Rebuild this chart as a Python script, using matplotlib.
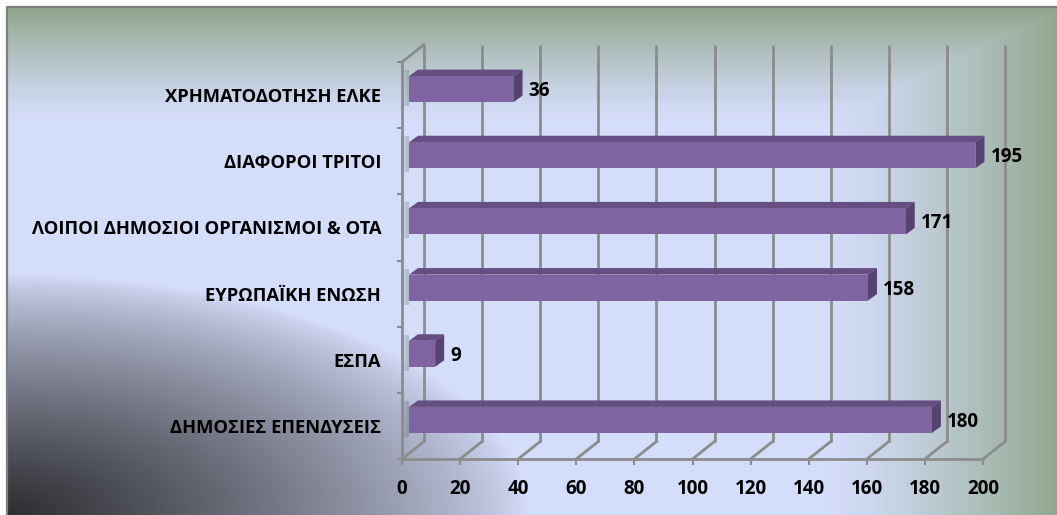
import numpy as np
import matplotlib
matplotlib.use("Agg")
import matplotlib.pyplot as plt
from matplotlib.patches import Polygon

# ---- data ----
categories = ["ΔΗΜΟΣΙΕΣ ΕΠΕΝΔΥΣΕΙΣ", "ΕΣΠΑ", "ΕΥΡΩΠΑΪΚΗ ΕΝΩΣΗ",
              "ΛΟΙΠΟΙ ΔΗΜΟΣΙΟΙ ΟΡΓΑΝΙΣΜΟΙ & ΟΤΑ", "ΔΙΑΦΟΡΟΙ ΤΡΙΤΟΙ",
              "ΧΡΗΜΑΤΟΔΟΤΗΣΗ ΕΛΚΕ"]
values = [180, 9, 158, 171, 195, 36]
xticks = [0, 20, 40, 60, 80, 100, 120, 140, 160, 180, 200]

W, H = 1057, 515
DPI = 100
plt.rcParams['font.family'] = ['Open Sans', 'DejaVu Sans']
fig = plt.figure(figsize=(W / DPI, H / DPI), dpi=DPI)
fig.patch.set_facecolor("white")

# ---- background panel (gradient) ----
bx0, by0 = 6.5, 7.0
bg = fig.add_axes([bx0 / W, 0, 1 - bx0 / W, (H - by0) / H])
bg.set_axis_off()
ny, nx = 260, 530
yy, xx = np.mgrid[0:ny, 0:nx]
px = xx / (nx - 1) * (W - bx0)
py = by0 + yy / (ny - 1) * (H - by0)   # from top
L = np.array([0.835, 0.867, 0.98])
G = np.array([0.56, 0.65, 0.54])
D = np.array([0.18, 0.18, 0.19])
w_top = np.clip(1 - (py - by0) / 115, 0, 1) ** 1.3
w_right = np.clip((px - 820) / 237, 0, 1) ** 1.3
w_g = np.maximum(w_top, w_right)[..., None]
r = np.sqrt((px / 520) ** 2 + ((H - py) / 240) ** 2)
w_d = (np.clip(1 - r, 0, 1) ** 0.75)[..., None]
img = L * (1 - w_g) + G * w_g
img = img * (1 - w_d) + D * w_d
bg.imshow(img, extent=[0, 1, 0, 1], aspect="auto", origin="upper",
          transform=bg.transAxes, zorder=0)
bg.plot([0, 0, 1], [0, 1, 1], transform=bg.transAxes, color="#7f7f7f",
        lw=1.6, clip_on=False, zorder=2)

# ---- plot axes (front plane) ----
fx0, fx1 = 402, 983          # pixel x of 0 and 200 on the front plane
fy_top, fy_bot = 62, 459     # pixel y (from top)
ax = fig.add_axes([fx0 / W, (H - fy_bot) / H, (fx1 - fx0) / W, (fy_bot - fy_top) / H])
ax.set_facecolor("none")
ax.set_xlim(0, 200)
ax.set_ylim(-0.5, len(categories) - 0.5)
ppx = (fx1 - fx0) / 200.0
ppy = (fy_bot - fy_top) / len(categories)


def off(x, y, dx, dy):
    return x + dx / ppx, y + dy / ppy


GRID = "#8c8c8c"
LW = 2.0
ymin, ymax = -0.5, len(categories) - 0.5
BACK = (22, 17.5)

# back wall gridlines + floor diagonals
for t in xticks:
    xb0, yb0 = off(t, ymin, *BACK)
    xb1, yb1 = off(t, ymax, *BACK)
    ax.plot([xb0, xb1], [yb0, yb1], color=GRID, lw=LW, clip_on=False, zorder=1,
            solid_capstyle="butt")
    ax.plot([t, xb0], [ymin, yb0], color=GRID, lw=LW, clip_on=False, zorder=1)
# left wall top diagonal
xb1, yb1 = off(0, ymax, *BACK)
ax.plot([0, xb1], [ymax, yb1], color=GRID, lw=LW, clip_on=False, zorder=1)

# ---- 3D bars ----
FRONT = (7, 6)
DEPTH = (9, 6.5)
bh = 26 / ppy
ypos = np.arange(len(categories))
C_FRONT, C_TOP, C_SIDE = "#8064a2", "#654f82", "#564372"
for yi, v in zip(ypos, values):
    x0, yc = off(0, yi, *FRONT)
    x1 = x0 + v
    ylo, yhi = yc - bh / 2, yc + bh / 2
    # shadow at left end
    for k, a in enumerate(np.linspace(0.22, 0.0, 6)):
        sx, sy = off(x0, ylo, -2 - k * 1.5, 0)
        ax.add_patch(plt.Rectangle((sx, ylo - 4 / ppy), 1.5 / ppx, bh + 10 / ppy,
                                   facecolor="#3a3a44", alpha=a, lw=0,
                                   clip_on=False, zorder=2))
    # top face
    top = [(x0, yhi), (x1, yhi), off(x1, yhi, *DEPTH), off(x0, yhi, *DEPTH)]
    ax.add_patch(Polygon(top, closed=True, facecolor=C_TOP, edgecolor="none",
                         clip_on=False, zorder=3))
    # side face
    side = [(x1, ylo), (x1, yhi), off(x1, yhi, *DEPTH), off(x1, ylo, *DEPTH)]
    ax.add_patch(Polygon(side, closed=True, facecolor=C_SIDE, edgecolor="none",
                         clip_on=False, zorder=3))
ax.barh(ypos + FRONT[1] / ppy, values, height=bh, left=FRONT[0] / ppx,
        color=C_FRONT, edgecolor="none", zorder=4, clip_on=False)

# value labels
for yi, v in zip(ypos, values):
    lx, ly = off(v, yi, 22, 4)
    ax.text(lx, ly, str(v), ha="left", va="center", fontsize=13.5,
            fontweight="bold", color="black", zorder=5)

# ---- axes styling ----
for s in ["top", "right"]:
    ax.spines[s].set_visible(False)
for s in ["left", "bottom"]:
    ax.spines[s].set_color(GRID)
    ax.spines[s].set_linewidth(LW)
    ax.spines[s].set_zorder(2)

ax.set_xticks(xticks)
ax.set_xticklabels([str(t) for t in xticks], fontsize=13.5, fontweight="bold")
ax.tick_params(axis="x", length=4.3, width=1.5, color=GRID, pad=10)

ax.set_yticks(ypos)
ax.set_yticklabels(categories, fontsize=13.2, fontweight="bold")
ax.tick_params(axis="y", which="major", length=0, pad=15)
ax.set_yticks(np.arange(len(categories) + 1) - 0.5, minor=True)
ax.tick_params(axis="y", which="minor", length=3.6, width=1.5, color=GRID)

fig.savefig("out.png", dpi=DPI)
